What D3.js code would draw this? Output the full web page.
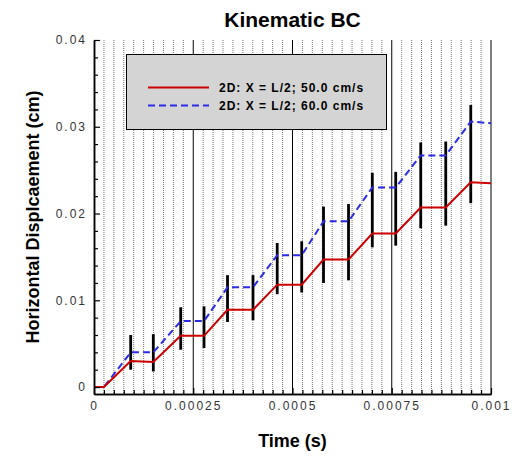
<!DOCTYPE html>
<html>
<head>
<meta charset="utf-8">
<script src="https://cdn.jsdelivr.net/npm/d3@7"></script>
<style>
  body { margin: 0; background: #fff; }
  svg { display: block; font-family: "Liberation Sans", Arial, sans-serif; }
  .tick-label { font-size: 12px; letter-spacing: 2px; fill: #333; }
  .axis-title { font-size: 18px; font-weight: bold; fill: #000; }
  .legend-text { font-size: 12px; font-weight: bold; letter-spacing: 1px; }
</style>
</head>
<body>
<svg id="chart"></svg>
<script>
// Piecewise breakpoints of both displacement curves (time in s, displacement in cm)
const timeBreaks = [0, 0.000025, 0.0000924, 0.0001494, 0.0002184, 0.0002771, 0.0003363, 0.0004005,
  0.0004615, 0.0005232, 0.0005781, 0.0006411, 0.000701, 0.00076, 0.000823, 0.000886, 0.000949, 0.001];
const disp50 = [0, 0, 0.0030, 0.0029, 0.0059, 0.0059, 0.0089, 0.0089,
  0.0118, 0.0118, 0.0147, 0.0147, 0.0177, 0.0177, 0.0207, 0.0207, 0.0236, 0.0235];
const disp60 = [0, 0, 0.0040, 0.0040, 0.0076, 0.0076, 0.0115, 0.0115,
  0.0152, 0.0152, 0.0191, 0.0191, 0.0230, 0.0230, 0.0267, 0.0267, 0.0306, 0.0304];

// Error bars
const errTime = [0.0000924, 0.0001494, 0.0002184, 0.0002771, 0.0003363, 0.0004005, 0.0004615, 0.0005232,
  0.0005781, 0.0006411, 0.000701, 0.00076, 0.000823, 0.000886, 0.000949];
const errLow = [0.0020, 0.0018, 0.0043, 0.0045, 0.0075, 0.0077, 0.0107, 0.0109,
  0.0120, 0.0123, 0.0161, 0.0163, 0.0183, 0.0186, 0.0212];
const errHigh = [0.0060, 0.0061, 0.0092, 0.0093, 0.0129, 0.0129, 0.0166, 0.0168,
  0.0208, 0.0211, 0.0247, 0.0248, 0.0282, 0.0283, 0.0325];

const seriesNames = ['2D: X = L/2; 50.0 cm/s', '2D: X = L/2; 60.0 cm/s'];

const xTickValues = [0, 0.00025, 0.0005, 0.00075, 0.001];
const xTickLabels = ['0', '0.00025', '0.0005', '0.00075', '0.001'];
const yTickValues = [0, 0.01, 0.02, 0.03, 0.04];
const yTickLabels = ['0', '0.01', '0.02', '0.03', '0.04'];

class KinematicChart {

  constructor(_config) {
    this.config = {
      parentElement: _config.parentElement,
      containerWidth: 519,
      containerHeight: 457,
      margin: {top: 40, right: 28, bottom: 63, left: 94}
    };
    this.initVis();
  }

  initVis() {
    let vis = this;

    vis.width = vis.config.containerWidth - vis.config.margin.left - vis.config.margin.right;
    vis.height = vis.config.containerHeight - vis.config.margin.top - vis.config.margin.bottom;

    vis.xScale = d3.scaleLinear()
        .domain([0, 0.001])
        .range([0, vis.width]);

    // y-axis extends a little below zero
    vis.yScale = d3.scaleLinear()
        .domain([-0.0008, 0.04])
        .range([vis.height, 0]);

    vis.svg = d3.select(vis.config.parentElement)
        .attr('width', vis.config.containerWidth)
        .attr('height', vis.config.containerHeight);

    vis.chart = vis.svg.append('g')
        .attr('transform', `translate(${vis.config.margin.left},${vis.config.margin.top})`);

    vis.svg.append('text')
        .attr('x', vis.config.margin.left + vis.width / 2)
        .attr('y', 27)
        .attr('text-anchor', 'middle')
        .style('font-size', '21px')
        .style('font-weight', 'bold')
        .text('Kinematic BC');

    vis.svg.append('text')
        .attr('class', 'axis-title')
        .attr('x', vis.config.margin.left + vis.width / 2)
        .attr('y', 447)
        .attr('text-anchor', 'middle')
        .text('Time (s)');

    vis.svg.append('text')
        .attr('class', 'axis-title')
        .attr('transform', `translate(39,${vis.config.margin.top + vis.height / 2}) rotate(-90)`)
        .attr('text-anchor', 'middle')
        .text('Horizontal Displcaement (cm)');
  }

  renderVis() {
    let vis = this;

    // Vertical grid: dotted minor lines, solid major lines
    const minorX = d3.range(1, 41).map(i => i * 0.000025).filter(v => Math.round(v / 0.000025) % 10 !== 0);
    vis.chart.selectAll('.grid-minor')
        .data(minorX)
      .join('line')
        .attr('class', 'grid-minor')
        .attr('x1', d => vis.xScale(d))
        .attr('x2', d => vis.xScale(d))
        .attr('y1', 0)
        .attr('y2', vis.height)
        .attr('stroke', '#777')
        .attr('stroke-width', 1)
        .attr('stroke-dasharray', '1,1');

    vis.chart.selectAll('.grid-major')
        .data(xTickValues.slice(1))
      .join('line')
        .attr('class', 'grid-major')
        .attr('x1', d => vis.xScale(d))
        .attr('x2', d => vis.xScale(d))
        .attr('y1', 0)
        .attr('y2', vis.height)
        .attr('stroke', '#000')
        .attr('stroke-width', 1);

    // Error bars
    const errData = errTime.map((t, i) => ({t, lo: errLow[i], hi: errHigh[i]}));
    vis.chart.selectAll('.err')
        .data(errData)
      .join('line')
        .attr('class', 'err')
        .attr('x1', d => vis.xScale(d.t))
        .attr('x2', d => vis.xScale(d.t))
        .attr('y1', d => vis.yScale(d.lo))
        .attr('y2', d => vis.yScale(d.hi))
        .attr('stroke', '#000')
        .attr('stroke-width', 2.8);

    // Curves
    const line = d3.line()
        .x(d => vis.xScale(d[0]))
        .y(d => vis.yScale(d[1]));

    vis.chart.append('path')
        .datum(timeBreaks.map((t, i) => [t, disp60[i]]))
        .attr('fill', 'none')
        .attr('stroke', '#2b2be6')
        .attr('stroke-width', 2)
        .attr('stroke-dasharray', '7,4')
        .attr('d', line);

    vis.chart.append('path')
        .datum(timeBreaks.map((t, i) => [t, disp50[i]]))
        .attr('fill', 'none')
        .attr('stroke', '#cc0000')
        .attr('stroke-width', 2)
        .attr('d', line);

    // Axes with inward ticks
    const yAxis = d3.axisLeft(vis.yScale)
        .tickValues(yTickValues)
        .tickFormat((d, i) => yTickLabels[i])
        .tickSizeInner(-6)
        .tickSizeOuter(0)
        .tickPadding(7);
    const yMinor = d3.axisLeft(vis.yScale)
        .tickValues(d3.range(0, 21).map(i => i * 0.002).filter((v, i) => i % 5 !== 0))
        .tickFormat('')
        .tickSizeInner(-4)
        .tickSizeOuter(0);

    const xAxis = d3.axisBottom(vis.xScale)
        .tickValues(xTickValues)
        .tickFormat((d, i) => xTickLabels[i])
        .tickSizeInner(-6)
        .tickSizeOuter(0)
        .tickPadding(7);
    const xMinor = d3.axisBottom(vis.xScale)
        .tickValues(minorX)
        .tickFormat('')
        .tickSizeInner(-4)
        .tickSizeOuter(0);

    const xG = vis.chart.append('g').attr('transform', `translate(0,${vis.height})`);
    xG.append('g').call(xMinor);
    xG.append('g').call(xAxis);
    const yG = vis.chart.append('g');
    yG.append('g').call(yMinor);
    yG.append('g').call(yAxis);

    vis.chart.selectAll('.domain').attr('stroke-width', 1.5);
    vis.chart.selectAll('.tick line').attr('stroke-width', 1.2);
    vis.chart.selectAll('.tick text')
        .attr('class', 'tick-label')
        .attr('font-family', null)
        .attr('font-size', null);

    // Legend box
    const legend = vis.svg.append('g');
    legend.append('rect')
        .attr('x', 126.5)
        .attr('y', 54.5)
        .attr('width', 260)
        .attr('height', 75)
        .attr('fill', '#d4d4d4')
        .attr('stroke', '#000')
        .attr('stroke-width', 1);

    const legendItems = [
      {name: seriesNames[0], color: '#cc0000', dash: null},
      {name: seriesNames[1], color: '#2b2be6', dash: '7,4'}
    ];
    legendItems.forEach((d, i) => {
      const y = 87.5 + i * 18;
      legend.append('line')
          .attr('x1', 148).attr('x2', 209)
          .attr('y1', y).attr('y2', y)
          .attr('stroke', d.color)
          .attr('stroke-width', 2)
          .attr('stroke-dasharray', d.dash);
      legend.append('text')
          .attr('class', 'legend-text')
          .attr('x', 219)
          .attr('y', y + 4.5)
          .text(d.name);
    });
  }
}

const chart = new KinematicChart({parentElement: '#chart'});
chart.renderVis();
</script>
</body>
</html>
